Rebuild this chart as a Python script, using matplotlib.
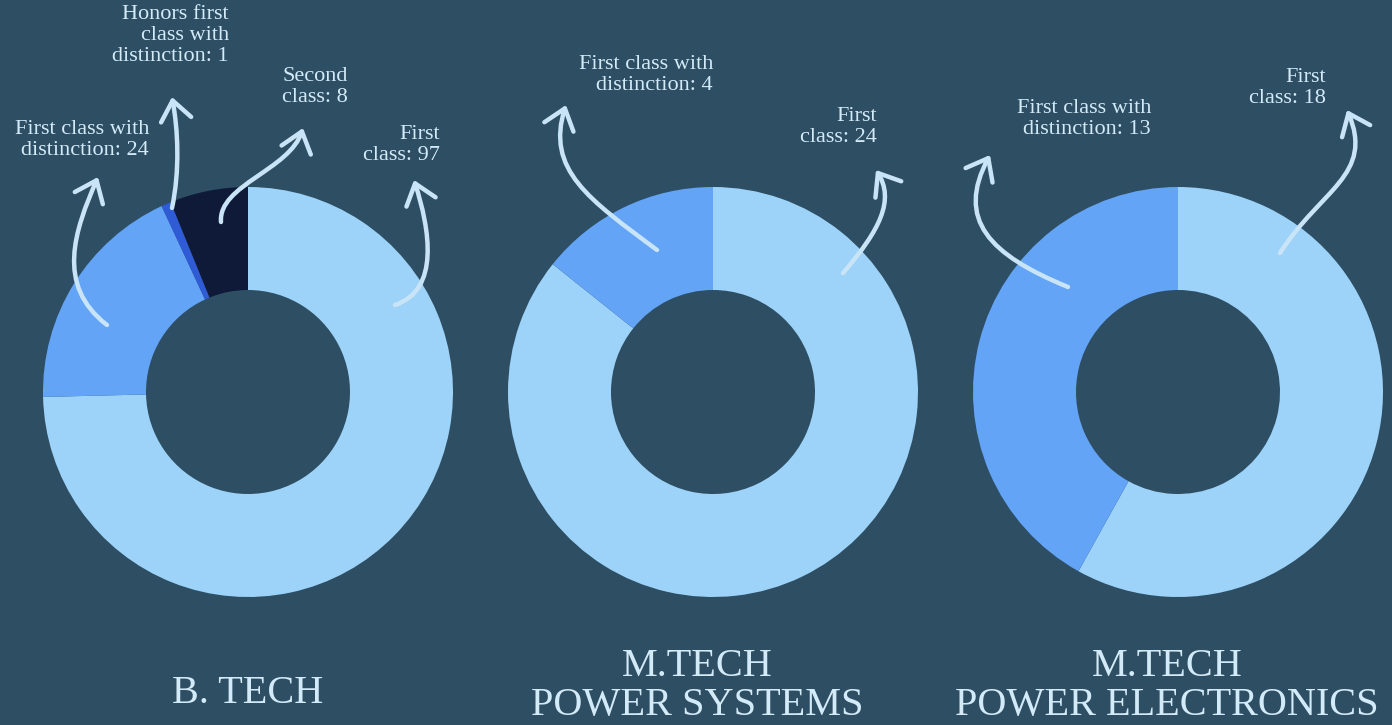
import numpy as np
import matplotlib.pyplot as plt
from matplotlib.path import Path
from matplotlib.patches import FancyArrowPatch

# figure size in pixels
W, H = 1392, 725

bg = "#2d4e63"
txt_col = "#d3eaf8"
arrow_col = "#c8e4f6"

c_first = "#9dd3f8"
c_dist = "#63a4f7"
c_hon = "#2f5bd6"
c_second = "#0f1a38"

# data (values clockwise from top)
btech_labels = ["First\nclass: 97", "First class with\ndistinction: 24",
                "Honors first\nclass with\ndistinction: 1", "Second\nclass: 8"]
btech_vals = [97, 24, 1, 8]
btech_cols = [c_first, c_dist, c_hon, c_second]

ps_labels = ["First\nclass: 24", "First class with\ndistinction: 4"]
ps_vals = [24, 4]
ps_cols = [c_first, c_dist]

pe_labels = ["First\nclass: 18", "First class with\ndistinction: 13"]
pe_vals = [18, 13]
pe_cols = [c_first, c_dist]

titles = ["B. TECH", "M.TECH\nPOWER SYSTEMS", "M.TECH\nPOWER ELECTRONICS"]


def Y(y):
    # image pixel row -> data y
    return H - y


fig = plt.figure(figsize=(W / 100, H / 100), dpi=100, facecolor=bg)
ax = fig.add_axes([0, 0, 1, 1])
ax.set_facecolor(bg)

R = 205
centers = [(248, 392), (713, 392), (1178, 392)]
for (cx, cy), vals, cols in zip(centers, [btech_vals, ps_vals, pe_vals],
                                [btech_cols, ps_cols, pe_cols]):
    ax.pie(vals, colors=cols, startangle=90, counterclock=False,
           center=(cx, Y(cy)), radius=R,
           wedgeprops=dict(width=R - 102, edgecolor="none"))

ax.set_xlim(0, W)
ax.set_ylim(0, H)
ax.set_aspect("equal")
ax.axis("off")

# labels: (text, right x, top y)
label_pos = [
    (btech_labels[0], 440, 125),
    (btech_labels[1], 149, 120),
    (btech_labels[2], 229, 5),
    (btech_labels[3], 348, 67),
    (ps_labels[0], 877, 107),
    (ps_labels[1], 713, 55),
    (pe_labels[0], 1326, 68),
    (pe_labels[1], 1151, 99),
]
for s, x, y in label_pos:
    ax.text(x, Y(y), s, ha="right", va="top", color=txt_col,
            fontsize=16, family="Liberation Serif", linespacing=1.13)

title_pos = [(248, 675), (697, 648), (1167, 648)]
for s, (x, y) in zip(titles, title_pos):
    ax.text(x, Y(y), s, ha="center", va="top", color=txt_col,
            fontsize=29, family="Liberation Serif", linespacing=1.08)

# hand drawn style arrows, cubic bezier control points in image pixels
arrows = [
    [(107, 325), (55, 285), (75, 230), (98, 177)],
    [(172, 208), (180, 170), (178, 130), (172, 97)],
    [(221, 222), (218, 185), (290, 170), (303, 128)],
    [(395, 305), (440, 290), (430, 230), (414, 180)],
    [(657, 250), (590, 200), (545, 170), (566, 105)],
    [(843, 273), (880, 230), (895, 200), (876, 170)],
    [(1068, 287), (990, 255), (955, 220), (990, 155)],
    [(1280, 253), (1320, 190), (1375, 175), (1347, 110)],
]
codes = [Path.MOVETO, Path.CURVE4, Path.CURVE4, Path.CURVE4]
for pts in arrows:
    verts = [(x, Y(y)) for x, y in pts]
    ar = FancyArrowPatch(path=Path(verts, codes),
                         arrowstyle="->,head_length=0.7,head_width=0.55",
                         mutation_scale=20, color=arrow_col, lw=3.2,
                         capstyle="round", joinstyle="round")
    ax.add_patch(ar)

fig.savefig("out.png", dpi=100, facecolor=bg)
